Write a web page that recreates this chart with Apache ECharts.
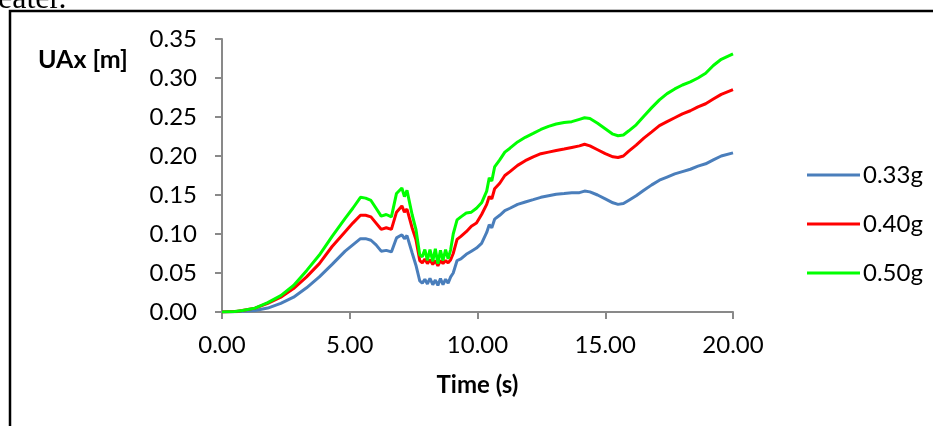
<!DOCTYPE html>
<html lang="en">
  <head>
    <meta charset="UTF-8">
    <title>UAx vs Time</title>
    <script src="https://cdn.jsdelivr.net/npm/echarts@6/dist/echarts.min.js"></script>
    <style>
      html, body { margin: 0; padding: 0; background: #fff; }
    </style>
  </head>
  <body>
    <div id="main" style="width: 933px;height:426px;"></div>
    <script type="text/javascript">
      // time axis (s), shared by the three records
      var times = [0, 0.5, 0.8, 1.29, 1.79, 2.3, 2.8, 3.31, 3.81, 4.31,
        4.82, 5.12, 5.42, 5.62, 5.83, 6.03, 6.23, 6.43, 6.63, 6.83,
        7.04, 7.14, 7.24, 7.44, 7.59, 7.74, 7.84, 7.94, 8.04, 8.14,
        8.25, 8.35, 8.45, 8.55, 8.65, 8.75, 8.85, 8.95, 9.05, 9.2,
        9.35, 9.56, 9.76, 9.96, 10.16, 10.36, 10.46, 10.56, 10.67, 10.87,
        11.07, 11.27, 11.57, 11.87, 12.18, 12.48, 12.78, 13.08, 13.39, 13.69,
        13.99, 14.19, 14.4, 14.7, 15.0, 15.3, 15.5, 15.71, 15.91, 16.21,
        16.51, 16.82, 17.12, 17.42, 17.72, 18.02, 18.33, 18.63, 18.93, 19.23,
        19.54, 20];

      // UAx [m]
      var ua033 = [0, 0.0003, 0.001, 0.002, 0.005, 0.011, 0.019, 0.031, 0.045, 0.061,
        0.078, 0.086, 0.094, 0.094, 0.092, 0.086, 0.078, 0.079, 0.077, 0.095,
        0.099, 0.094, 0.098, 0.076, 0.060, 0.040, 0.037, 0.042, 0.036, 0.043,
        0.035, 0.041, 0.034, 0.043, 0.035, 0.042, 0.037, 0.045, 0.050, 0.066,
        0.068, 0.074, 0.078, 0.082, 0.088, 0.102, 0.112, 0.108, 0.119, 0.124,
        0.130, 0.133, 0.138, 0.141, 0.144, 0.147, 0.149, 0.151, 0.152, 0.153,
        0.153, 0.155, 0.154, 0.150, 0.145, 0.140, 0.138, 0.139, 0.143, 0.149,
        0.156, 0.163, 0.169, 0.173, 0.177, 0.180, 0.183, 0.187, 0.190, 0.195,
        0.200, 0.204];
      var ua040 = [0, 0.0005, 0.002, 0.005, 0.011, 0.019, 0.03, 0.045, 0.062, 0.084,
        0.103, 0.114, 0.124, 0.124, 0.122, 0.114, 0.106, 0.108, 0.106, 0.128,
        0.136, 0.128, 0.132, 0.108, 0.093, 0.066, 0.063, 0.068, 0.062, 0.067,
        0.061, 0.066, 0.059, 0.066, 0.062, 0.066, 0.063, 0.067, 0.075, 0.093,
        0.097, 0.103, 0.110, 0.114, 0.125, 0.138, 0.148, 0.145, 0.158, 0.165,
        0.175, 0.180, 0.188, 0.194, 0.199, 0.203, 0.205, 0.207, 0.209, 0.211,
        0.213, 0.215, 0.213, 0.208, 0.203, 0.199, 0.198, 0.200, 0.206, 0.214,
        0.223, 0.231, 0.239, 0.244, 0.249, 0.254, 0.258, 0.263, 0.267, 0.273,
        0.279, 0.285];
      var ua050 = [0, 0.0006, 0.002, 0.005, 0.012, 0.021, 0.034, 0.053, 0.073, 0.097,
        0.120, 0.133, 0.147, 0.146, 0.143, 0.133, 0.123, 0.125, 0.122, 0.152,
        0.159, 0.148, 0.156, 0.125, 0.106, 0.073, 0.071, 0.080, 0.066, 0.080,
        0.065, 0.081, 0.062, 0.079, 0.066, 0.080, 0.068, 0.080, 0.100, 0.118,
        0.122, 0.127, 0.128, 0.133, 0.140, 0.155, 0.172, 0.168, 0.186, 0.195,
        0.205, 0.210, 0.218, 0.224, 0.229, 0.234, 0.238, 0.241, 0.243, 0.244,
        0.247, 0.249, 0.248, 0.242, 0.235, 0.228, 0.226, 0.227, 0.232, 0.240,
        0.251, 0.262, 0.272, 0.280, 0.286, 0.291, 0.295, 0.300, 0.306, 0.316,
        0.324, 0.331];

      var seriesNames = ['0.33g', '0.40g', '0.50g'];
      var seriesColors = ['#4a7ebb', '#ff0000', '#00ff00'];

      function pairs (vals) {
        return times.map(function (t, i) { return [t, vals[i]]; });
      }

      var font = 'Lato';
      var myChart = echarts.init(document.getElementById('main'));

      var option = {
        animation: false,
        backgroundColor: '#fff',
        textStyle: { fontFamily: font, color: '#000' },
        grid: { left: 222, right: 200, top: 39, bottom: 114 },
        legend: {
          orient: 'vertical',
          left: 802,
          top: 158,
          icon: 'rect',
          itemWidth: 53,
          itemHeight: 3,
          itemGap: 25,
          data: seriesNames,
          textStyle: { fontFamily: font, fontSize: 24, color: '#000', padding: [0, 0, 0, -2] }
        },
        xAxis: {
          type: 'value',
          min: 0,
          max: 20,
          interval: 5,
          name: 'Time (s)',
          nameLocation: 'middle',
          nameGap: 61,
          nameTextStyle: { fontFamily: font, fontSize: 24, fontWeight: 'bold', color: '#000' },
          axisLine: { lineStyle: { color: '#898989', width: 2 } },
          axisTick: { length: 7, lineStyle: { color: '#898989', width: 2 } },
          axisLabel: {
            fontFamily: font, fontSize: 24, color: '#000', margin: 21,
            formatter: function (v) { return v.toFixed(2); }
          },
          splitLine: { show: false }
        },
        yAxis: {
          type: 'value',
          min: 0,
          max: 0.35,
          interval: 0.05,
          axisLine: { show: true, lineStyle: { color: '#898989', width: 2 } },
          axisTick: { show: true, length: 7, lineStyle: { color: '#898989', width: 2 } },
          axisLabel: {
            fontFamily: font, fontSize: 24, color: '#000', margin: 25,
            formatter: function (v) { return v.toFixed(2); }
          },
          splitLine: { show: false }
        },
        series: [
          { name: seriesNames[0], type: 'line', data: pairs(ua033) },
          { name: seriesNames[1], type: 'line', data: pairs(ua040) },
          { name: seriesNames[2], type: 'line', data: pairs(ua050) }
        ].map(function (s, i) {
          s.symbol = 'none';
          s.color = seriesColors[i];
          s.lineStyle = { width: 3, color: seriesColors[i] };
          return s;
        }),
        graphic: [
          {
            type: 'rect',
            shape: { x: 10, y: 11, width: 1200, height: 1000 },
            style: { fill: 'none', stroke: '#000', lineWidth: 2.5 }
          },
          {
            type: 'text',
            x: 38,
            y: 60,
            style: {
              text: 'UAx [m]', fontFamily: font, fontSize: 25, fontWeight: 'bold',
              fill: '#000', verticalAlign: 'middle'
            }
          },
          {
            type: 'text',
            x: -2,
            y: 16,
            style: {
              text: 'eater.', fontFamily: 'Liberation Serif', fontSize: 32,
              fill: '#000', verticalAlign: 'bottom'
            }
          }
        ]
      };

      myChart.setOption(option);
    </script>
  </body>
</html>
